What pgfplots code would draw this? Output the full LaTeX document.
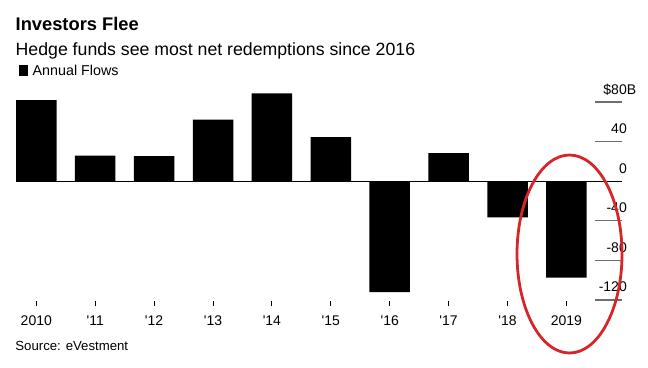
\documentclass[border=0pt]{standalone}
\usepackage{fontspec}
\setmainfont{Liberation Sans}
\usepackage{pgfplots}
\pgfplotsset{compat=1.18}
\definecolor{ringred}{RGB}{214,38,42}
\definecolor{tickgray}{RGB}{110,110,110}
\begin{document}
\begin{tikzpicture}
\useasboundingbox (-16pt,-66.1pt) rectangle (632pt,300.9pt);
\begin{axis}[
  at={(0,0)}, anchor=south west,
  scale only axis, width=606pt, height=208.7pt,
  xmin=-0.345, xmax=9.944, ymin=-121, ymax=90,
  axis x line*=bottom, axis y line*=right,
  x axis line style={draw=none}, y axis line style={draw=none},
  xtick={0,...,9},
  xticklabels={2010,\textquotesingle11,\textquotesingle12,\textquotesingle13,\textquotesingle14,\textquotesingle15,\textquotesingle16,\textquotesingle17,\textquotesingle18,2019},
  x tick style={draw=black, line width=0.9pt},
  major tick length=5pt, tick align=outside,
  ytick={-120,-80,-40,0,40,80},
  yticklabels={-120,-80,-40,0,40,\$80\rlap{B}},
  y tick style={draw=none},
  yticklabel style={anchor=base east, inner sep=0pt, yshift=8pt},
  ticklabel style={font=\fontsize{14}{16}\selectfont},
  xticklabel style={anchor=base, inner sep=0pt, yshift=-19.8pt},
  clip=false,
  ybar, bar width=0.6875,
]
\pgfplotsinvokeforeach{-120,-80,-40,40,80}{
  \draw[tickgray, line width=1.3pt] (axis cs:9.486,#1) -- (axis cs:9.944,#1);
}
\draw[black, line width=1pt] (axis cs:-0.345,0) -- (axis cs:9.944,0);
\addplot[fill=black, draw=none] coordinates {(0,81.9) (1,25.9) (2,25.3) (3,62.4) (4,88.7) (5,44.7) (6,-112.1) (7,28.5) (8,-36.5) (9,-97.4)};
\draw[ringred, line width=2.8pt] (axis cs:9.053,-73.6) ellipse [x radius=52.5pt, y radius=99pt];
\end{axis}
\node[anchor=base west, inner sep=0pt, font=\fontsize{18.3}{20}\selectfont\bfseries] at (-0.5pt,270.4pt) {Investors Flee};
\node[anchor=base west, inner sep=0pt, font=\fontsize{17.7}{20}\selectfont] at (-0.5pt,245.2pt) {Hedge funds see most net redemptions since 2016};
\fill[black] (3pt,225.2pt) rectangle (12.3pt,235.9pt);
\node[anchor=base west, inner sep=0pt, font=\fontsize{14.3}{16}\selectfont] at (16.5pt,224.9pt) {Annual Flows};
\node[anchor=base west, inner sep=0pt, font=\fontsize{13.2}{15}\selectfont] at (-0.8pt,-49.1pt) {Source: eVestment};
\end{tikzpicture}
\end{document}
